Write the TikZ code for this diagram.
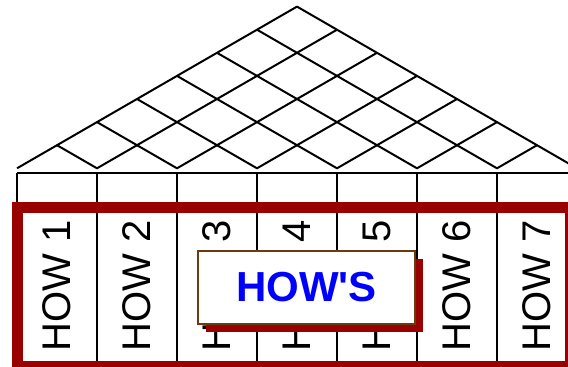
\documentclass[tikz,border=0pt]{standalone}
\usepackage{fontspec}
\newfontfamily\labelfont{Liberation Sans}
\usetikzlibrary{calc, shadows}
\definecolor{FrameRed}{HTML}{990000}
\definecolor{BoxBrown}{HTML}{6B3A0F}
\definecolor{HowBlue}{HTML}{0000FF}
\tikzset{
  howlabel/.style={rotate=90, inner sep=0pt, text=black,
                   font=\labelfont\fontsize{40}{48}\selectfont},
  howsbox/.style={rectangle, draw=BoxBrown, fill=white, line width=2pt,
                   minimum width=217pt, minimum height=73pt,
                   font=\labelfont\bfseries\fontsize{42}{50}\selectfont, text=HowBlue,
                   drop shadow={shadow xshift=8pt, shadow yshift=-8pt,
                                fill=FrameRed, opacity=1}},
}

\begin{document}
\begin{tikzpicture}[x=1pt, y=-1pt,
    grid/.style={line width=2pt, black, line join=round},
    frame/.style={line width=11pt, draw=FrameRed}
  ]
  \useasboundingbox (0,0) rectangle (568,367);
  \clip (0,0) rectangle (568,367);
  % roof
  \coordinate (apex) at (297,6.6);
  \foreach \k in {0,...,7} {
    \coordinate (b\k) at (17+80*\k,168.3);
    \draw[grid] ($(apex)+\k*(40,23.1)$) -- (b\k) -- ($(b0)+\k*(40,-23.1)$);
  }
  % header row and columns
  \coordinate (htop) at (17,172.7);
  \draw[grid] (htop) -- ++(560,0);
  \foreach \k in {0,...,6}
    \draw[grid] ($(htop)+(80*\k,0)$) -- ++(0,188.3);
  \foreach \k [evaluate=\k as \n using int(\k+1)] in {0,...,6}
    \node[howlabel] (how\n) at (57+80*\k,286) {HOW \n};
  \draw[frame] (17.5,207) rectangle (570,366.5);
  \node[howsbox] (hows) at (306.5,287.5) {HOW'S};
\end{tikzpicture}
\end{document}
